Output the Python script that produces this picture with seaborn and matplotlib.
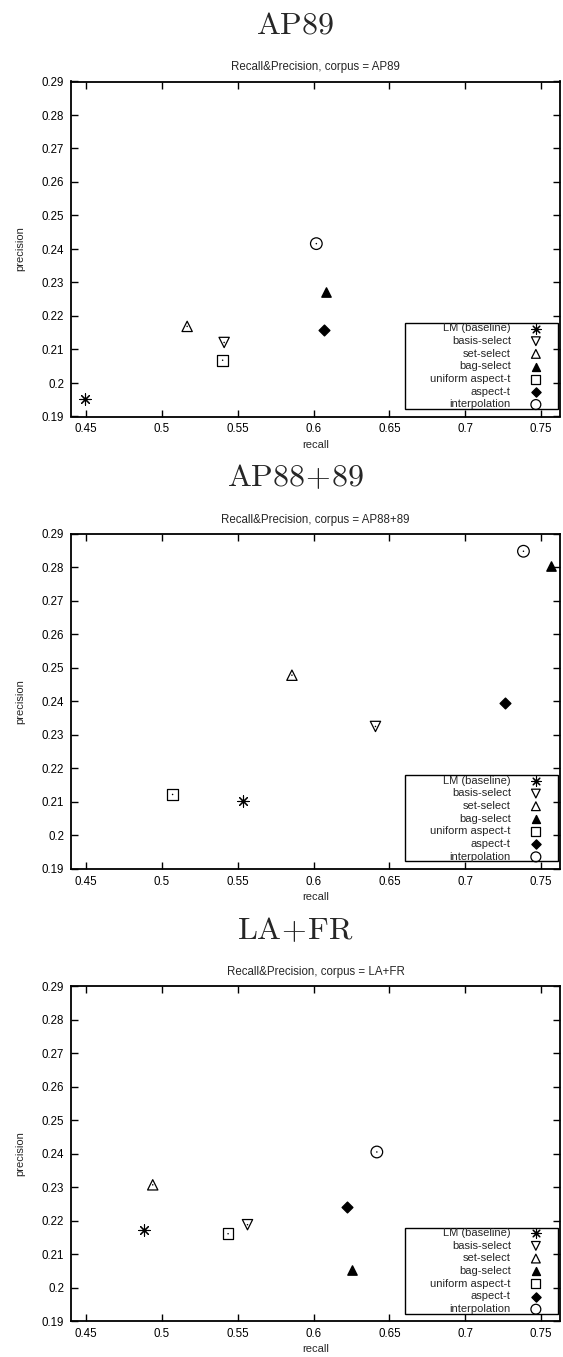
import numpy as np
import pandas as pd
import matplotlib
matplotlib.use("Agg")
import matplotlib.pyplot as plt
import seaborn as sns
from matplotlib.ticker import FuncFormatter
from matplotlib.patches import Rectangle

sns.set_style("ticks")
plt.rcParams['font.family'] = ['Liberation Sans', 'DejaVu Sans']
plt.rcParams['mathtext.fontset'] = 'cm'

methods = ['LM (baseline)', 'basis-select', 'set-select', 'bag-select',
           'uniform aspect-t', 'aspect-t', 'interpolation']

corpora = ['AP89', 'AP88+89', 'LA+FR']
panel_titles = [r'$\mathrm{AP89}$', r'$\mathrm{AP88}\!+\!\mathrm{89}$', r'$\mathrm{LA}\!+\!\mathrm{FR}$']

recall_ap89 = [0.449, 0.541, 0.5166, 0.608, 0.540, 0.6068, 0.6018]
precision_ap89 = [0.1952, 0.2121, 0.2169, 0.2273, 0.2068, 0.2158, 0.2416]

recall_ap8889 = [0.5535, 0.6408, 0.5857, 0.7564, 0.507, 0.7261, 0.7384]
precision_ap8889 = [0.2103, 0.2325, 0.2478, 0.2805, 0.2122, 0.2395, 0.2848]

recall_lafr = [0.4882, 0.5564, 0.4939, 0.6252, 0.5436, 0.6222, 0.6417]
precision_lafr = [0.2171, 0.2188, 0.2307, 0.2054, 0.2161, 0.2240, 0.2405]

x_ticks = [0.45, 0.5, 0.55, 0.6, 0.65, 0.7, 0.75]
y_ticks = [0.19, 0.2, 0.21, 0.22, 0.23, 0.24, 0.25, 0.26, 0.27, 0.28, 0.29]

recalls = [recall_ap89, recall_ap8889, recall_lafr]
precisions = [precision_ap89, precision_ap8889, precision_lafr]

# marker styles: (marker, filled, size, center dot)
styles = {
    'LM (baseline)': ((8, 2, 0), True, 65, False),
    'basis-select': ('v', False, 55, True),
    'set-select': ('^', False, 55, True),
    'bag-select': ('^', True, 45, False),
    'uniform aspect-t': ('s', False, 60, True),
    'aspect-t': ('D', True, 30, False),
    'interpolation': ('o', False, 70, True),
}

W, H = 563, 1357
fig = plt.figure(figsize=(W / 100, H / 100), dpi=100)
panel_h = H / 3.0
ax_left, ax_right = 71, 560
ax_top_off, ax_bot_off = 81.5, 416.5

fmt = FuncFormatter(lambda v, p: '%g' % round(v, 4))

for i, corpus in enumerate(corpora):
    top = ax_top_off + panel_h * i
    bot = ax_bot_off + panel_h * i
    ax = fig.add_axes([ax_left / W, 1 - bot / H, (ax_right - ax_left) / W, (bot - top) / H])
    df = pd.DataFrame({'method': methods, 'recall': recalls[i], 'precision': precisions[i]})
    for m in methods:
        mk, filled, s, dot = styles[m]
        sub = df[df['method'] == m]
        if filled:
            lw = 0.8 if m == 'LM (baseline)' else 1.0
            sns.scatterplot(data=sub, x='recall', y='precision', ax=ax, marker=mk, s=s,
                            color='black', edgecolor='black', linewidth=lw, label=m, zorder=3)
        else:
            sns.scatterplot(data=sub, x='recall', y='precision', ax=ax, marker=mk, s=s,
                            facecolor='none', edgecolor='black', linewidth=0.9, label=m, zorder=3)
        if dot:
            sns.scatterplot(data=sub, x='recall', y='precision', ax=ax, marker='o', s=1.2,
                            color='black', edgecolor='none', linewidth=0, zorder=4, legend=False)
    ax.set_xlim(0.44, 0.7625)
    ax.set_ylim(0.19, 0.29)
    ax.set_xticks(x_ticks)
    ax.set_yticks(y_ticks)
    ax.xaxis.set_major_formatter(fmt)
    ax.yaxis.set_major_formatter(fmt)
    ax.tick_params(direction='in', length=5, width=1.0, top=True, right=True,
                   labelsize=8.3, pad=5, colors='black')
    for sp in ax.spines.values():
        sp.set_visible(True)
        sp.set_linewidth(1.3)
        sp.set_color('black')
    ax.set_xlabel('recall', fontsize=8, labelpad=3)
    ax.set_ylabel('precision', fontsize=8, labelpad=12)
    ax.set_title('Recall&Precision, corpus = %s' % corpus, fontsize=8.3, pad=8)
    leg = ax.legend(loc='lower right', bbox_to_anchor=(0.962, 0.021), markerfirst=False,
                    frameon=False, fontsize=8, markerscale=0.85,
                    handletextpad=1.75, labelspacing=0.24, borderpad=0,
                    handlelength=1.0, borderaxespad=0)
    ax.add_patch(Rectangle((0.683, 0.022), 0.313, 0.257, transform=ax.transAxes,
                           fill=False, edgecolor='black', linewidth=1.0, zorder=5))
    fig.text(295 / W, 1 - (26 + panel_h * i) / H, panel_titles[i], ha='center', va='center',
             fontsize=23)

fig.savefig('out.png', dpi=100, facecolor='white')
